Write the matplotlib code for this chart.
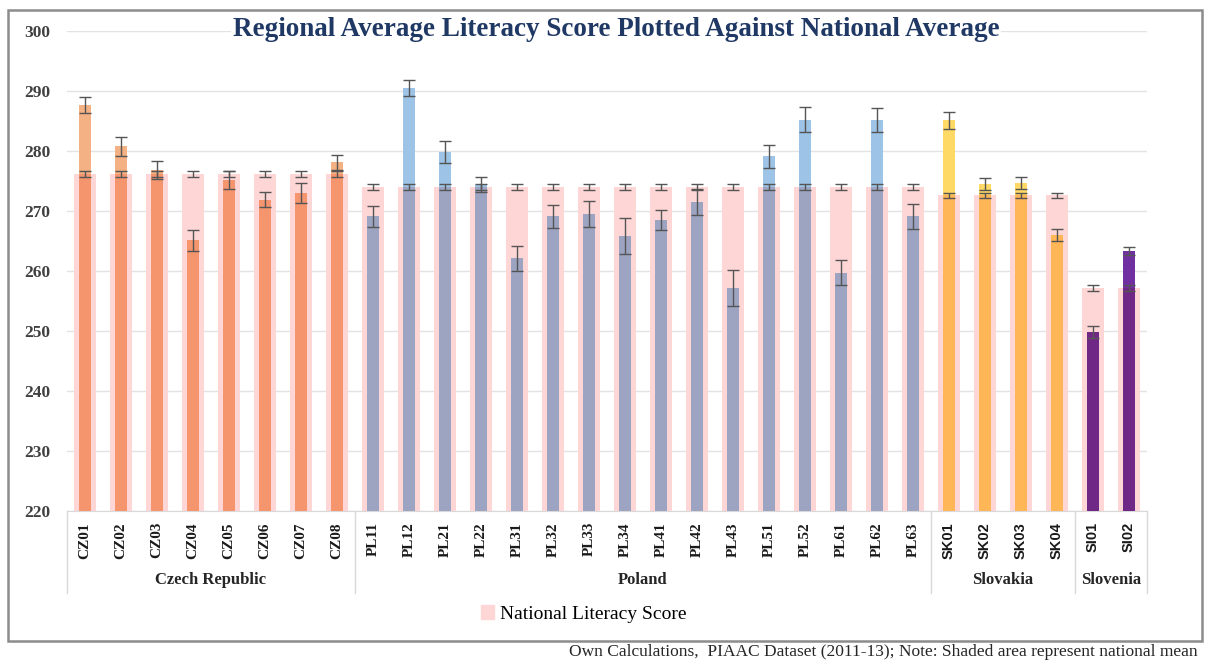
import numpy as np
import matplotlib
matplotlib.use("Agg")
import matplotlib.pyplot as plt
from matplotlib.patches import Patch, Rectangle
from matplotlib.colors import to_rgb
import matplotlib.transforms as mtransforms

# ---------------- data ----------------
regions = ["CZ01", "CZ02", "CZ03", "CZ04", "CZ05", "CZ06", "CZ07", "CZ08",
           "PL11", "PL12", "PL21", "PL22", "PL31", "PL32", "PL33", "PL34",
           "PL41", "PL42", "PL43", "PL51", "PL52", "PL61", "PL62", "PL63",
           "SK01", "SK02", "SK03", "SK04",
           "SI01", "SI02"]
regional_score = [287.7, 280.8, 276.9, 265.1, 275.1, 271.9, 273.0, 278.1,
                  269.1, 290.5, 279.8, 274.4, 262.1, 269.1, 269.5, 265.9,
                  268.5, 271.5, 257.2, 279.1, 285.2, 259.7, 285.2, 269.1,
                  285.1, 274.5, 274.6, 266.0,
                  249.8, 263.3]
regional_err = [1.3, 1.6, 1.5, 1.7, 1.5, 1.3, 1.6, 1.3,
                1.75, 1.3, 1.8, 1.3, 2.1, 1.85, 2.2, 3.0,
                1.6, 2.1, 3.05, 1.85, 2.1, 2.1, 2.0, 2.1,
                1.4, 1.0, 1.0, 1.0,
                1.0, 0.7]
countries = ["Czech Republic", "Poland", "Slovakia", "Slovenia"]
country_counts = [8, 16, 4, 2]
national_score = [276.2, 274.0, 272.6, 257.2]
national_err = [0.5, 0.45, 0.45, 0.55]
country_colors = ["#F4B183", "#9DC3E6", "#FFD966", "#7030A0"]
shade_color = "#FFD6D6"

# ---------------- derived ----------------
n = len(regions)
x = np.arange(n)
idx = np.repeat(np.arange(len(countries)), country_counts)
nat = np.array(national_score)[idx]
nat_err = np.array(national_err)[idx]
reg = np.array(regional_score)
reg_err = np.array(regional_err)

def multiply(c1, c2):
    a, b = np.array(to_rgb(c1)), np.array(to_rgb(c2))
    return tuple(a * b)

upper_cols = [country_colors[i] for i in idx]
lower_cols = [multiply(country_colors[i], shade_color) for i in idx]

serif = ["Liberation Serif", "DejaVu Serif"]

fig = plt.figure(figsize=(12.1, 6.61), dpi=100)
ax = fig.add_axes([67 / 1210, 1 - 511 / 661, (1147 - 67) / 1210, 480 / 661])

ax.set_ylim(220, 300)
ax.set_xlim(-0.5, n - 0.5)
ax.set_yticks(np.arange(220, 301, 10))
ax.yaxis.grid(True, color="#E3E3E3", lw=1)
ax.set_axisbelow(True)
for s in ax.spines.values():
    s.set_visible(False)
ax.spines["bottom"].set_visible(True)
ax.spines["bottom"].set_color("#D9D9D9")

# national shade
ax.bar(x, nat, width=0.62, color=shade_color, zorder=2)
# regional bars (lower blended part and upper part)
lower = np.minimum(reg, nat)
ax.bar(x, lower, width=0.32, color=lower_cols, zorder=3)
ax.bar(x, reg - lower, bottom=lower, width=0.32, color=upper_cols, zorder=3)
# error bars
ax.errorbar(x, nat, yerr=nat_err, fmt="none", ecolor="#555555", elinewidth=1,
            capsize=4, capthick=1, zorder=4)
ax.errorbar(x, reg, yerr=reg_err, fmt="none", ecolor="#555555", elinewidth=1,
            capsize=4, capthick=1, zorder=5)

# ticks
ax.tick_params(axis="y", length=0, pad=12, labelsize=12.5, labelcolor="#404040")
for lab in ax.get_yticklabels():
    lab.set_fontfamily(serif)
    lab.set_fontweight("bold")
ax.set_xticks(x)
ax.set_xticklabels(regions, rotation=90)
ax.tick_params(axis="x", length=0, pad=8, labelsize=11, labelcolor="#1a1a1a")
for lab, i in zip(ax.get_xticklabels(), idx):
    if i >= 2:
        lab.set_fontfamily(["Liberation Sans", "DejaVu Sans"])
        lab.set_fontsize(10.5)
    else:
        lab.set_fontfamily(serif)
    lab.set_fontweight("bold")

# group labels and separators
trans = mtransforms.blended_transform_factory(ax.transData, ax.transAxes)
bounds = np.concatenate([[0], np.cumsum(country_counts)]) - 0.5
for b in bounds:
    ax.plot([b, b], [0, -0.171], transform=trans, color="#D9D9D9", lw=1,
            clip_on=False)
for name, lo, hi in zip(countries, bounds[:-1], bounds[1:]):
    ax.text((lo + hi) / 2, -0.144, name, transform=trans, ha="center",
            va="center", fontsize=12, fontweight="bold", color="#262626",
            family=serif)

# title
fig.text(616 / 1210, 1 - 29 / 661,
         "Regional Average Literacy Score Plotted Against National Average",
         ha="center", va="center", fontsize=19.5, fontweight="bold",
         color="#1F3864", family=serif,
         bbox=dict(facecolor="white", edgecolor="none", pad=1))

# legend
fig.legend(handles=[Patch(color=shade_color, label="National Literacy Score")],
           loc="center left", bbox_to_anchor=(463 / 1210, 1 - 614 / 661),
           frameon=False, prop={"family": serif, "size": 14},
           handlelength=0.7, handleheight=0.7, handletextpad=0.3)

# border
fig.patches.append(Rectangle((8 / 1210, 1 - 641 / 661), 1194 / 1210, 631 / 661,
                             transform=fig.transFigure, fill=False,
                             edgecolor="#8C8C8C", lw=1.8, zorder=0))

# footnote
fig.text(1198 / 1210, 1 - 652 / 661,
         "Own Calculations,  PIAAC Dataset (2011-13); Note: Shaded area represent national mean",
         ha="right", va="center", fontsize=12.5, color="#262626", family=serif)

fig.savefig("out.png", dpi=100)
